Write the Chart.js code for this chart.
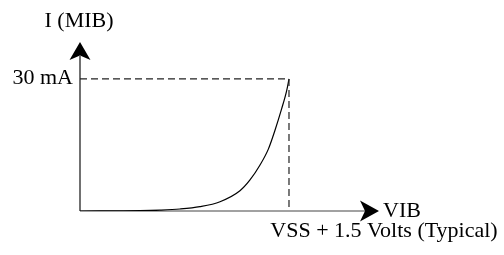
<!DOCTYPE html>
<html>
<head>
<meta charset="utf-8">
<script src="https://cdn.jsdelivr.net/npm/chart.js@4"></script>
<style>
  html, body { margin: 0; padding: 0; background: #fff; }
  #wrap { width: 504px; height: 255px; }
</style>
</head>
<body>
<div id="wrap"><canvas id="c" width="504" height="255"></canvas></div>
<script>
// Data (volts above VSS, mA)
const curveVolts = [0, 0.431, 0.574, 0.718, 0.861, 1.005, 1.148, 1.220, 1.292, 1.351, 1.399, 1.447, 1.483, 1.5];
const curveMilliAmps = [0, 0.08, 0.2, 0.45, 0.98, 2.11, 4.6, 7.05, 10.45, 14.0, 18.3, 23.2, 27.3, 30];
const markerVolts = 1.5;
const markerMilliAmps = 30;
const yTickLabel = "30 mA";
const yAxisTitle = "I (MIB)";
const xAxisTitle = "VIB";
const xMarkerLabel = "VSS + 1.5 Volts (Typical)";
const xMax = 2.146;
const yMax = 38.4;

const curvePts = curveVolts.map((v, i) => ({ x: v, y: curveMilliAmps[i] }));
const guidePts = [
  { x: 0, y: markerMilliAmps },
  { x: markerVolts, y: markerMilliAmps },
  { x: markerVolts, y: 0 }
];

const FONT = '22px "Liberation Serif", "Times New Roman", serif';

const decor = {
  id: 'decor',
  beforeDatasetsDraw(chart) {
    const { ctx, scales: { x, y } } = chart;
    const x0 = x.getPixelForValue(0);
    const y0 = y.getPixelForValue(0);
    const xTip = x.getPixelForValue(xMax);
    const yTip = y.getPixelForValue(yMax);
    ctx.save();
    ctx.lineWidth = 1.2;
    ctx.strokeStyle = '#111';
    ctx.beginPath();
    ctx.moveTo(x0, y0);
    ctx.lineTo(x0, yTip + 14);
    ctx.stroke();
    ctx.strokeStyle = '#444';
    ctx.beginPath();
    ctx.moveTo(x0, y0);
    ctx.lineTo(xTip - 14, y0);
    ctx.stroke();
    ctx.restore();
  },
  afterDatasetsDraw(chart) {
    const { ctx, scales: { x, y } } = chart;
    const x0 = x.getPixelForValue(0);
    const y0 = y.getPixelForValue(0);
    const xTip = x.getPixelForValue(xMax);
    const yTip = y.getPixelForValue(yMax);
    ctx.save();
    ctx.fillStyle = '#000';
    ctx.beginPath();
    ctx.moveTo(x0, yTip);
    ctx.lineTo(x0 + 10.5, yTip + 18);
    ctx.lineTo(x0, yTip + 13.5);
    ctx.lineTo(x0 - 10.5, yTip + 18);
    ctx.closePath();
    ctx.fill();
    ctx.beginPath();
    ctx.moveTo(xTip, y0);
    ctx.lineTo(xTip - 19, y0 - 10.5);
    ctx.lineTo(xTip - 14, y0);
    ctx.lineTo(xTip - 19, y0 + 10.5);
    ctx.closePath();
    ctx.fill();
    ctx.font = FONT;
    ctx.textBaseline = 'alphabetic';
    ctx.textAlign = 'center';
    ctx.fillText(yAxisTitle, x0 - 1, 27);
    ctx.textAlign = 'right';
    ctx.fillText(yTickLabel, x0 - 7, y.getPixelForValue(markerMilliAmps) + 5);
    ctx.textAlign = 'left';
    ctx.fillText(xAxisTitle, xTip + 4, y0 + 6);
    ctx.textAlign = 'center';
    ctx.fillText(xMarkerLabel, x.getPixelForValue(markerVolts) + 95, y0 + 26);
    ctx.restore();
  }
};

new Chart(document.getElementById('c'), {
  type: 'scatter',
  data: {
    datasets: [
      {
        data: guidePts,
        showLine: true,
        borderColor: '#222',
        borderWidth: 1.2,
        borderDash: [7, 4],
        pointRadius: 0,
        tension: 0
      },
      {
        data: curvePts,
        showLine: true,
        borderColor: '#000',
        borderWidth: 1.2,
        pointRadius: 0,
        cubicInterpolationMode: 'monotone'
      }
    ]
  },
  options: {
    responsive: false,
    animation: false,
    layout: { padding: { left: 80, right: 125, top: 42, bottom: 44 } },
    plugins: { legend: { display: false }, tooltip: { enabled: false } },
    scales: {
      x: { type: 'linear', min: 0, max: xMax, display: false },
      y: { type: 'linear', min: 0, max: yMax, display: false }
    }
  },
  plugins: [decor]
});
</script>
</body>
</html>
